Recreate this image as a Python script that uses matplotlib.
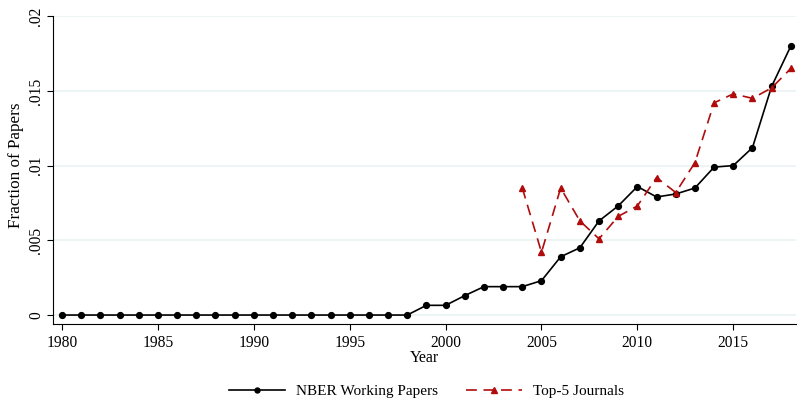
import matplotlib
matplotlib.use("Agg")
import matplotlib.pyplot as plt

plt.rcParams['font.family'] = ['Liberation Serif', 'DejaVu Serif']

years = list(range(1980, 2019))
nber = [0.0] * 19 + [0.00065, 0.00065, 0.0013, 0.0019, 0.0019, 0.0019, 0.0023,
                     0.0039, 0.0045, 0.0063, 0.0073, 0.0086, 0.0079, 0.0081,
                     0.0085, 0.0099, 0.0100, 0.0112, 0.0153, 0.0180]

top5_years = list(range(2004, 2019))
top5 = [0.0085, 0.0042, 0.0085, 0.0063, 0.0051, 0.0066, 0.0073, 0.0092,
        0.0082, 0.0102, 0.0142, 0.0148, 0.0145, 0.0152, 0.0165]

xticks = [1980, 1985, 1990, 1995, 2000, 2005, 2010, 2015]
yticks = [0, 0.005, 0.01, 0.015, 0.02]
ylabels = ['0', '.005', '.01', '.015', '.02']

fig = plt.figure(figsize=(7.97, 4.04), dpi=100)
ax = fig.add_axes([0.0665, 0.198, 0.932, 0.762])

red = '#b00c0c'
ax.plot(years, nber, color='black', lw=1.2, marker='o', ms=4.2,
        label='NBER Working Papers')
ax.plot(top5_years, top5, color=red, lw=1.2, ls=(0, (6.5, 4)), marker='^',
        ms=5, label='Top-5 Journals')

ax.set_xlim(1979.53, 2018.26)
ax.set_ylim(-0.0006, 0.02)
ax.set_xticks(xticks)
ax.set_yticks(yticks)
ax.set_yticklabels(ylabels, rotation=90, va='center')
ax.tick_params(labelsize=11.2, direction='out', length=4.3, width=0.8)
ax.tick_params(axis='y', pad=2)
ax.grid(axis='y', color='#eaf2f3', lw=1.2)
ax.set_axisbelow(True)
for s in ['top', 'right']:
    ax.spines[s].set_visible(False)

ax.set_xlabel('Year', fontsize=11.5, va='center')
ax.xaxis.set_label_coords(0.5, -0.112)
ax.set_ylabel('Fraction of Papers', fontsize=12.3, va='center')
ax.yaxis.set_label_coords(-0.0498, 0.515)

fig.legend(loc='center', bbox_to_anchor=(0.535, 0.032), ncol=2,
           frameon=False, fontsize=11, handlelength=3.66, handletextpad=0.72,
           columnspacing=1.83, markerscale=0.85)

fig.savefig('out.png', dpi=100)
